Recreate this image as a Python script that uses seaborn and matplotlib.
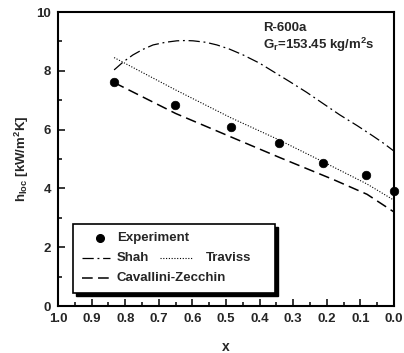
import matplotlib
matplotlib.use("Agg")
import matplotlib.pyplot as plt
import seaborn as sns
import pandas as pd
from matplotlib.patches import Rectangle
from matplotlib.lines import Line2D
from matplotlib.ticker import MultipleLocator

# Data
exp_x = [0.833, 0.652, 0.485, 0.342, 0.211, 0.083, 0.0]
exp_y = [7.62, 6.85, 6.10, 5.56, 4.88, 4.46, 3.90]

shah_x = [0.833, 0.805, 0.777, 0.747, 0.717, 0.68, 0.646, 0.62, 0.598, 0.56, 0.527, 0.49, 0.449, 0.40, 0.36, 0.31, 0.26, 0.21, 0.161, 0.11, 0.062, 0.03, 0.0]
shah_y = [8.03, 8.31, 8.54, 8.73, 8.88, 8.97, 9.02, 9.03, 9.02, 8.97, 8.88, 8.74, 8.54, 8.26, 7.98, 7.63, 7.27, 6.88, 6.50, 6.14, 5.78, 5.53, 5.27]

trav_x = [0.833, 0.65, 0.485, 0.342, 0.21, 0.08, 0.0]
trav_y = [8.45, 7.35, 6.40, 5.65, 4.90, 4.15, 3.60]

cav_x = [0.833, 0.65, 0.485, 0.34, 0.18, 0.08, 0.0]
cav_y = [7.60, 6.55, 5.75, 5.05, 4.30, 3.80, 3.20]

x_ticks = [1.0, 0.9, 0.8, 0.7, 0.6, 0.5, 0.4, 0.3, 0.2, 0.1, 0.0]
y_ticks = [0, 2, 4, 6, 8, 10]

sns.set_style("ticks")
plt.rcParams['font.family'] = ['Liberation Sans', 'DejaVu Sans']
plt.rcParams['font.weight'] = 'bold'
plt.rcParams['mathtext.fontset'] = 'custom'
plt.rcParams['mathtext.rm'] = 'Liberation Sans:bold'
plt.rcParams['mathtext.it'] = 'Liberation Sans:bold'
plt.rcParams['mathtext.bf'] = 'Liberation Sans:bold'
plt.rcParams['mathtext.default'] = 'bf'

fig = plt.figure(figsize=(4.04, 3.53), dpi=100)
ax = fig.add_axes([0.1436, 0.1331, 0.8314, 0.8329])

df_exp = pd.DataFrame({"x": exp_x, "h": exp_y})
df_shah = pd.DataFrame({"x": shah_x, "h": shah_y})
df_trav = pd.DataFrame({"x": trav_x, "h": trav_y})
df_cav = pd.DataFrame({"x": cav_x, "h": cav_y})

shah_dash = (9, 3, 1.5, 3)
cav_dash = (7, 3.5)
trav_dash = (1, 1.5)

sns.lineplot(data=df_shah, x="x", y="h", ax=ax, color="black", lw=0.9,
             sort=False, estimator=None)
ax.lines[-1].set_dashes(shah_dash)
sns.lineplot(data=df_trav, x="x", y="h", ax=ax, color="black", lw=0.8,
             sort=False, estimator=None)
ax.lines[-1].set_dashes(trav_dash)
sns.lineplot(data=df_cav, x="x", y="h", ax=ax, color="black", lw=1.1,
             sort=False, estimator=None)
ax.lines[-1].set_dashes(cav_dash)
sns.scatterplot(data=df_exp, x="x", y="h", ax=ax, color="black", s=38,
                edgecolor="black", zorder=5, clip_on=False)

ax.set_xlim(1.0, 0.0)
ax.set_ylim(0, 10)
ax.set_xticks(x_ticks)
ax.set_xticklabels([f"{t:.1f}" for t in x_ticks])
ax.set_yticks(y_ticks)
ax.xaxis.set_minor_locator(MultipleLocator(0.05))
ax.yaxis.set_minor_locator(MultipleLocator(1))
ax.tick_params(which='both', direction='in', width=1.3, labelsize=9.5,
               top=False, right=False)
ax.tick_params(which='major', length=5, pad=5)
ax.tick_params(which='minor', length=3)
for s in ax.spines.values():
    s.set_linewidth(1.5)
    s.set_color("black")
for lab in ax.get_xticklabels() + ax.get_yticklabels():
    lab.set_fontweight('bold')

ax.set_xlabel("x", fontsize=10, fontweight='bold', labelpad=11)
ax.set_ylabel(r"h$_{\rm loc}$ [kW/m$^2$K]", fontsize=9.5, fontweight='bold', labelpad=4)

ax.text(0.61, 0.935, "R-600a", transform=ax.transAxes, fontsize=9.5, fontweight='bold')
ax.text(0.61, 0.875, r"G$_r$=153.45 kg/m$^2$s", transform=ax.transAxes,
        fontsize=9.5, fontweight='bold')

# Manual legend box
bx0, by0, bw, bh = 0.045, 0.045, 0.60, 0.235
ax.add_patch(Rectangle((bx0 + 0.01, by0 - 0.012), bw, bh, transform=ax.transAxes,
                       facecolor="black", edgecolor="black", zorder=6))
ax.add_patch(Rectangle((bx0, by0), bw, bh, transform=ax.transAxes,
                       facecolor="white", edgecolor="black", lw=1.2, zorder=7))
rows = [by0 + bh * 0.79, by0 + bh * 0.50, by0 + bh * 0.22]
ax.add_line(Line2D([0.125], [rows[0]], transform=ax.transAxes, marker='o', ms=5.5,
                   color='black', ls='none', zorder=8))
ax.text(0.175, rows[0], "Experiment", transform=ax.transAxes, fontsize=9.5,
        fontweight='bold', va='center', zorder=8)
l = Line2D([0.07, 0.155], [rows[1], rows[1]], transform=ax.transAxes, color='black',
           lw=0.9, zorder=8)
l.set_dashes(shah_dash)
ax.add_line(l)
ax.text(0.175, rows[1], "Shah", transform=ax.transAxes, fontsize=9.5,
        fontweight='bold', va='center', zorder=8)
l = Line2D([0.305, 0.40], [rows[1], rows[1]], transform=ax.transAxes, color='black',
           lw=0.8, zorder=8)
l.set_dashes(trav_dash)
ax.add_line(l)
ax.text(0.44, rows[1], "Traviss", transform=ax.transAxes, fontsize=9.5,
        fontweight='bold', va='center', zorder=8)
l = Line2D([0.07, 0.155], [rows[2], rows[2]], transform=ax.transAxes, color='black',
           lw=1.1, zorder=8)
l.set_dashes(cav_dash)
ax.add_line(l)
ax.text(0.175, rows[2], "Cavallini-Zecchin", transform=ax.transAxes, fontsize=9.5,
        fontweight='bold', va='center', zorder=8)

fig.savefig("out.png", dpi=100)
